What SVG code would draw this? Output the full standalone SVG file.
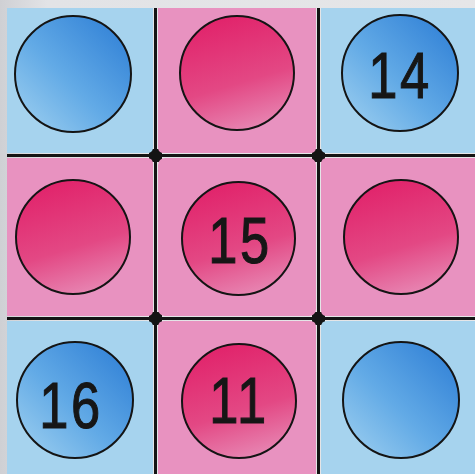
<svg xmlns="http://www.w3.org/2000/svg" width="475" height="474" viewBox="0 0 475 474">
  <defs>
    <linearGradient id="gBlue" x1="0" y1="1" x2="1" y2="0">
      <stop offset="0" stop-color="#a2d2f0"/>
      <stop offset="0.45" stop-color="#62aae6"/>
      <stop offset="1" stop-color="#2a7bd4"/>
    </linearGradient>
    <linearGradient id="gPink" x1="0.3" y1="0" x2="0.6" y2="1">
      <stop offset="0" stop-color="#e1226a"/>
      <stop offset="0.6" stop-color="#e34884"/>
      <stop offset="1" stop-color="#e785b2"/>
    </linearGradient>
    <linearGradient id="gBg" x1="0" y1="0" x2="1" y2="0">
      <stop offset="0" stop-color="#cfd0d4"/>
      <stop offset="0.1" stop-color="#e2e3e6"/>
      <stop offset="1" stop-color="#e6e6e8"/>
    </linearGradient>
    <style>
      .tb { fill: #a6d3ee; }
      .tp { fill: #e892c0; }
      .cb { fill: url(#gBlue); stroke: #141414; stroke-width: 2; }
      .cp { fill: url(#gPink); stroke: #141414; stroke-width: 2; }
      .num { font-family: "Liberation Sans", Arial, sans-serif; font-size: 64px; fill: #161616; stroke: #161616; stroke-width: 1.1; text-anchor: middle; letter-spacing: 3px; }
    </style>
  </defs>
  <rect x="0" y="0" width="475" height="474" fill="url(#gBg)"/>
  <g id="connectors" fill="#141414">
    <rect x="154" y="8" width="3" height="466"/>
    <rect x="317" y="8" width="3" height="466"/>
    <rect x="7" y="154" width="468" height="3"/>
    <rect x="7" y="317" width="468" height="3"/>
    <rect x="149" y="149" width="13" height="13"/>
    <rect x="312" y="149" width="13" height="13"/>
    <rect x="149" y="312" width="13" height="13"/>
    <rect x="312" y="312" width="13" height="13"/>
  </g>
  <g id="tile-r1c1"><path class="tb" d="M7 8 H153 V147 Q153 153 147 153 H7 Z"/><circle class="cb" cx="73" cy="74" r="58"/></g>
  <g id="tile-r1c2"><path class="tp" d="M158 8 H316 V147 Q316 153 310 153 H164 Q158 153 158 147 Z"/><circle class="cp" cx="237" cy="73" r="57"/></g>
  <g id="tile-r1c3"><path class="tb" d="M321 8 H475 V153 H327 Q321 153 321 147 Z"/><circle class="cb" cx="400" cy="73" r="58"/><text class="num" transform="translate(400,98) scale(0.82,1)">14</text></g>
  <g id="tile-r2c1"><path class="tp" d="M7 158 H147 Q153 158 153 164 V310 Q153 316 147 316 H7 Z"/><circle class="cp" cx="73" cy="237" r="57"/></g>
  <g id="tile-r2c2"><rect class="tp" x="158" y="158" width="158" height="158" rx="7"/><circle class="cp" cx="238.5" cy="238.5" r="56.5"/><text class="num" transform="translate(240,263) scale(0.82,1)">15</text></g>
  <g id="tile-r2c3"><path class="tp" d="M327 158 H475 V316 H327 Q321 316 321 310 V164 Q321 158 327 158 Z"/><circle class="cp" cx="401" cy="237" r="57"/></g>
  <g id="tile-r3c1"><path class="tb" d="M7 321 H147 Q153 321 153 327 V474 H7 Z"/><circle class="cb" cx="75" cy="400" r="58"/><text class="num" transform="translate(71,428) scale(0.82,1)">16</text></g>
  <g id="tile-r3c2"><path class="tp" d="M164 321 H310 Q316 321 316 327 V474 H158 V327 Q158 321 164 321 Z"/><circle class="cp" cx="239" cy="401" r="57"/><text class="num" transform="translate(239,423) scale(0.82,1)">11</text></g>
  <g id="tile-r3c3"><path class="tb" d="M327 321 H475 V474 H321 V327 Q321 321 327 321 Z"/><circle class="cb" cx="401" cy="400" r="58"/></g>
</svg>
